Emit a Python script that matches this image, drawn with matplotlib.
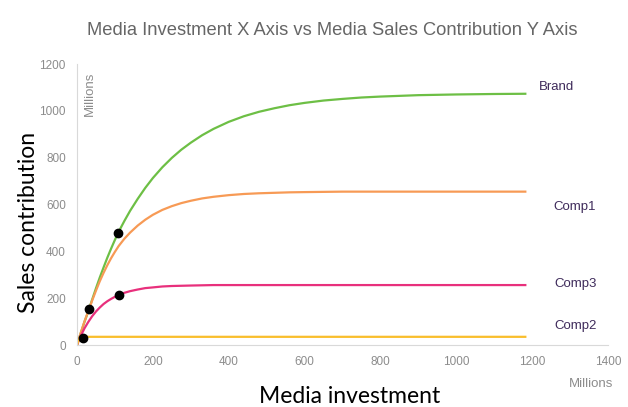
import matplotlib
matplotlib.use('Agg')
import matplotlib.pyplot as plt
from matplotlib import font_manager

# ── Response curves (media investment vs sales contribution, millions) ──
invest = [0, 10, 20, 30, 40, 50, 60, 70, 80, 90, 100, 110, 125, 140, 160,
          180, 200, 225, 250, 275, 300, 330, 360, 400, 440, 480, 520, 560,
          600, 650, 700, 750, 800, 900, 1000, 1100, 1185]
brand = [0, 51, 100, 145, 194, 242, 288, 331, 373, 412, 449, 484, 530, 573,
         624, 671, 713, 759, 799, 834, 864, 896, 923, 953, 977, 996, 1011,
         1024, 1034, 1044, 1051, 1057, 1061, 1067, 1070, 1072, 1073]
comp1 = [0, 53, 102, 145, 190, 232, 272, 308, 341, 371, 398, 423, 454, 480,
         510, 535, 556, 577, 593, 606, 616, 626, 633, 640, 645, 648, 650,
         652, 653, 654, 655, 655, 655, 655, 655, 655, 655]
comp3 = [0, 39, 72, 99, 123, 143, 160, 175, 187, 197, 206, 214, 223, 230,
         237, 243, 246, 250, 252, 253, 254, 255, 256, 256, 256, 256, 256,
         256, 256, 256, 256, 256, 256, 256, 256, 256, 256]

comp2_x = [0, 5, 10, 16, 30, 100, 400, 800, 1185]
comp2 = [0, 25, 33, 35, 35, 35, 35, 35, 35]

# current spend points
dot_x = [16, 32, 107, 110]
dot_y = [28, 154, 478, 214]

series_names = ['Brand', 'Comp1', 'Comp3', 'Comp2']
name_x = [1218, 1255, 1260, 1260]
name_y = [1102, 590, 261, 81]

COLORS = {
    'Brand': '#6DBF45',
    'Comp1': '#F79A55',
    'Comp3': '#E8307C',
    'Comp2': '#F9BE2C',
}
GRAY = '#8C8C8C'
PURPLE = '#3F2B5B'

installed = {f.name for f in font_manager.fontManager.ttflist}
NARROW = 'Liberation Sans Narrow' if 'Liberation Sans Narrow' in installed else 'Liberation Sans'

fig = plt.figure(figsize=(6.28, 4.07), dpi=100, facecolor='white')
ax = fig.add_axes([0.1226, 0.1523, 0.8455, 0.6904])

ax.plot(invest, brand, color=COLORS['Brand'], lw=1.6, solid_capstyle='butt')
ax.plot(invest, comp1, color=COLORS['Comp1'], lw=1.6, solid_capstyle='butt')
ax.plot(invest, comp3, color=COLORS['Comp3'], lw=1.6, solid_capstyle='butt')
ax.plot(comp2_x, comp2, color=COLORS['Comp2'], lw=1.6, solid_capstyle='butt')
ax.plot(dot_x, dot_y, 'o', color='black', ms=6, zorder=5)

for name, x, y in zip(series_names, name_x, name_y):
    ax.text(x, y, name, color=PURPLE, fontsize=9.5, va='center', ha='left',
            family='Liberation Sans', clip_on=False)

ax.set_xlim(0, 1400)
ax.set_ylim(0, 1200)
ax.set_xticks(range(0, 1401, 200))
ax.set_yticks(range(0, 1201, 200))
ax.tick_params(length=0, labelsize=8.5, labelcolor=GRAY, pad=8)
for lbl in ax.get_xticklabels() + ax.get_yticklabels():
    lbl.set_family('Liberation Sans')
ax.spines[['top', 'right']].set_visible(False)
ax.spines[['left', 'bottom']].set_color('#D9D9D9')

fig.text(0.529, 0.924, 'Media Investment X Axis vs Media Sales Contribution Y Axis',
         ha='center', va='center', fontsize=13.2, color='#666666',
         family='Liberation Sans')
fig.text(0.045, 0.453, 'Sales contribution', rotation=90, ha='center',
         va='center', fontsize=16.5, color='black', family='Lato')
fig.text(0.143, 0.769, 'Millions', rotation=90, ha='center', va='center',
         fontsize=9.5, color=GRAY, family=NARROW)
fig.text(0.941, 0.057, 'Millions', ha='center', va='center',
         fontsize=9.5, color=GRAY, family=NARROW)
fig.text(0.556, 0.025, 'Media investment', ha='center', va='center',
         fontsize=16.5, color='black', family='Lato')

fig.savefig('out.png', dpi=100, facecolor='white')
